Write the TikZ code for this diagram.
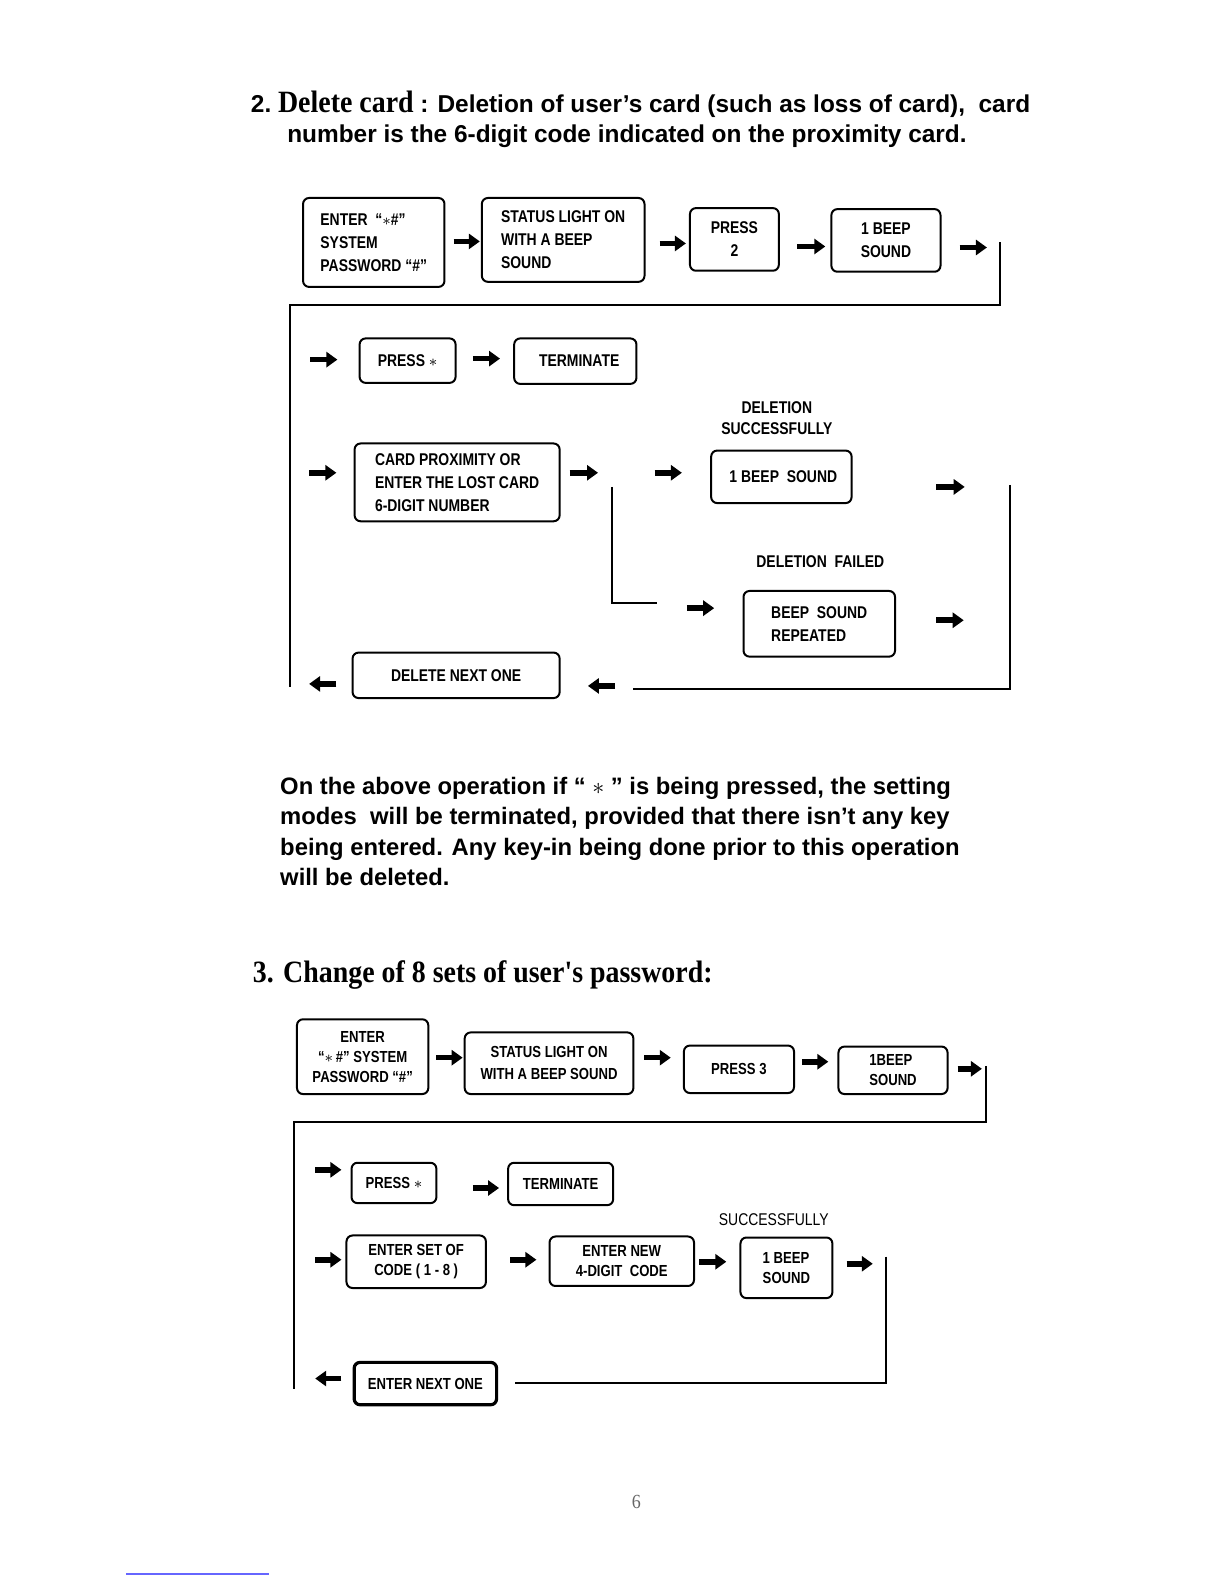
\documentclass[tikz,border=0pt]{standalone}
\usepackage{fontspec}
\setmainfont{Liberation Sans}
\newfontfamily\narrowfont{Liberation Sans}[FakeStretch=0.82]
\newfontfamily\headfont{Liberation Serif}[FakeStretch=0.9]
\usetikzlibrary{arrows.meta}
\newcommand\pxu{0.505pt}

\tikzset{
  box/.style={draw,rounded corners=3pt,line width=1pt,anchor=north west,inner sep=0pt,align=center,
    font=\narrowfont\bfseries\fontsize{8.5}{11.4}\selectfont},
  smallbox/.style={box,font=\narrowfont\bfseries\fontsize{8}{10}\selectfont},
  tag/.style={inner sep=0pt,align=center,font=\narrowfont\bfseries\fontsize{8.5}{10.6}\selectfont},
  fat/.style={line width=2.8pt,-{Triangle[length=5.5pt,width=7.5pt]}},
  link/.style={line width=1pt},
}

\begin{document}
\begin{tikzpicture}[x=0.505pt,y=-0.505pt]
\useasboundingbox (0,0) rectangle (1212,1568);

% 2. delete card
\node[anchor=base west,inner sep=0pt] (title2) at (248,111)
  {\bfseries\fontsize{12.2}{14}\selectfont 2.~{\headfont\fontsize{15.5}{14}\selectfont Delete card} : Deletion of user's card (such as loss of card),~ card};
\node[anchor=base west,inner sep=0pt] (title2b) at (284,141)
  {\bfseries\fontsize{12.2}{14}\selectfont number is the 6-digit code indicated on the proximity card.};

\node[box,minimum width=140*\pxu,minimum height=88*\pxu,align=left] (enter2) at (299,195)
  {ENTER~~“$\ast$\#”\\SYSTEM\\PASSWORD~“\#”};
\node[box,minimum width=161*\pxu,minimum height=83*\pxu,align=left] (status2) at (476,195)
  {STATUS LIGHT ON\\WITH A BEEP\\SOUND};
\node[box,minimum width=88*\pxu,minimum height=62*\pxu] (press2) at (682,205) {PRESS\\2};
\node[box,minimum width=108*\pxu,minimum height=62*\pxu] (beep2) at (822,206) {1 BEEP\\SOUND};

\draw[fat] (enter2.east) ++(8,-1) -- ++(26,0);
\draw[fat] (status2.east) ++(14,3.5) -- ++(26,0);
\draw[fat] (press2.east) ++(17,7) -- ++(28,0);
\draw[fat] (beep2.east) ++(18,7) -- ++(27,0);

\coordinate (ret2a) at (990,240);
\coordinate (ret2b) at (287,302);
\coordinate (ret2c) at (287,680);
\draw[link] (ret2a) |- (ret2b) -- (ret2c);

\node[box,minimum width=95*\pxu,minimum height=44*\pxu] (pressstar2) at (355,334) {PRESS $\ast$};
\node[box,minimum width=121*\pxu,minimum height=45*\pxu] (term2) at (508,334) {~~TERMINATE};
\draw[fat] (pressstar2.west) ++(-48,-1) -- ++(27,0);
\draw[fat] (pressstar2.east) ++(16,-2) -- ++(27,0);

\node[tag] (okhead2) at (769,414) {DELETION\\SUCCESSFULLY};
\node[box,minimum width=203*\pxu,minimum height=77*\pxu,align=left] (card2) at (350,438)
  {CARD PROXIMITY OR\\ENTER THE LOST CARD\\6-DIGIT NUMBER};
\node[box,minimum width=139*\pxu,minimum height=52*\pxu] (okbeep2) at (703,445) {~1 BEEP~~SOUND};
\draw[fat] (card2.west) ++(-44,-9.5) -- ++(27,0);
\draw[fat] (card2.east) ++(9,-9.5) -- ++(28,0);
\draw[fat] (okbeep2.west) ++(-55,-4) -- ++(27,0);
\draw[fat] (okbeep2.east) ++(83,10) -- ++(28,0);

\coordinate (split2) at (606,482);
\coordinate (fail2) at (650,597);
\draw[link] (split2) |- (fail2);

\node[tag] (failhead2) at (812,556) {DELETION~~FAILED};
\node[box,minimum width=150*\pxu,minimum height=65*\pxu,align=left] (failbeep2) at (735,584)
  {BEEP~~SOUND\\REPEATED};
\draw[fat] (failbeep2.west) ++(-55,-15.5) -- ++(27,0);
\draw[fat] (failbeep2.east) ++(40,-3.5) -- ++(27,0);

\coordinate (ret2d) at (1000,480);
\coordinate (ret2e) at (627,682);
\draw[link] (ret2d) |- (ret2e);

\node[box,minimum width=205*\pxu,minimum height=45*\pxu] (next2) at (348,645) {DELETE NEXT ONE};
\draw[fat] (next2.east) ++(54,10.5) -- ++(-27,0);
\draw[fat] (next2.west) ++(-15,8.5) -- ++(-27,0);

% note
\node[anchor=north west,inner sep=0pt,align=left,font=\bfseries\fontsize{11.9}{15.2}\selectfont] (note) at (277,769)
  {On the above operation if “ $\ast$ ” is being pressed, the setting\\
   modes~ will be terminated, provided that there isn't any key\\
   being entered. Any key-in being done prior to this operation\\
   will be deleted.};

% 3. change of password
\node[anchor=base west,inner sep=0pt] (title3) at (250,973)
  {\headfont\bfseries\fontsize{15.5}{16}\selectfont 3. Change of 8 sets of user's password:};

\node[smallbox,minimum width=130*\pxu,minimum height=74*\pxu] (enter3) at (293,1008)
  {ENTER\\“$\ast$\,\#” SYSTEM\\PASSWORD~“\#”};
\node[smallbox,minimum width=167*\pxu,minimum height=61*\pxu,font=\narrowfont\bfseries\fontsize{8}{11}\selectfont] (status3) at (459,1021)
  {STATUS LIGHT ON\\WITH A BEEP SOUND};
\node[smallbox,minimum width=109*\pxu,minimum height=47*\pxu] (press3) at (676,1034) {PRESS~3};
\node[smallbox,minimum width=108*\pxu,minimum height=47*\pxu,align=left] (beep3) at (829,1035) {1BEEP\\SOUND};
\draw[fat] (enter3.east) ++(7,1) -- ++(26,0);
\draw[fat] (status3.east) ++(10,-5.5) -- ++(26,0);
\draw[fat] (press3.east) ++(7,-7.5) -- ++(26,0);
\draw[fat] (beep3.east) ++(9,-1.5) -- ++(24,0);

\coordinate (ret3a) at (976,1055);
\coordinate (ret3b) at (291,1111);
\coordinate (ret3c) at (291,1375);
\draw[link] (ret3a) |- (ret3b) -- (ret3c);

\node[smallbox,minimum width=84*\pxu,minimum height=40*\pxu] (pressstar3) at (347,1150) {PRESS $\ast$};
\node[smallbox,minimum width=104*\pxu,minimum height=42*\pxu] (term3) at (502,1150) {TERMINATE};
\draw[fat] (pressstar3.west) ++(-35,-13) -- ++(26,0);
\draw[fat] (term3.west) ++(-34,4) -- ++(26,0);

\node[tag,font=\narrowfont\fontsize{8.5}{10}\selectfont] (okhead3) at (766,1207) {SUCCESSFULLY};
\node[smallbox,minimum width=138*\pxu,minimum height=52*\pxu] (setcode3) at (342,1222)
  {ENTER SET OF\\CODE ( 1 - 8 )};
\node[smallbox,minimum width=143*\pxu,minimum height=49*\pxu] (newcode3) at (543,1223)
  {ENTER NEW\\4-DIGIT~ CODE};
\node[smallbox,minimum width=91*\pxu,minimum height=60*\pxu,align=left] (okbeep3) at (732,1224) {1 BEEP\\SOUND};
\draw[fat] (setcode3.west) ++(-30,-2) -- ++(26,0);
\draw[fat] (newcode3.west) ++(-38,-1.5) -- ++(26,0);
\draw[fat] (okbeep3.west) ++(-40,-6) -- ++(27,0);
\draw[fat] (okbeep3.east) ++(13,-4) -- ++(26,0);

\coordinate (ret3d) at (877,1244);
\coordinate (ret3e) at (510,1369);
\draw[link] (ret3d) |- (ret3e);

\node[smallbox,line width=1.6pt,minimum width=141*\pxu,minimum height=42*\pxu] (next3) at (349,1347) {ENTER NEXT ONE};
\draw[fat] (next3.west) ++(-11,-5) -- ++(-26,0);

% page
\node[text=black!60,font=\headfont\fontsize{10}{10}\selectfont] (page) at (630,1487) {6};
\draw[blue!60,line width=0.6pt] (125,1558) -- (266,1558);
\end{tikzpicture}
\end{document}
